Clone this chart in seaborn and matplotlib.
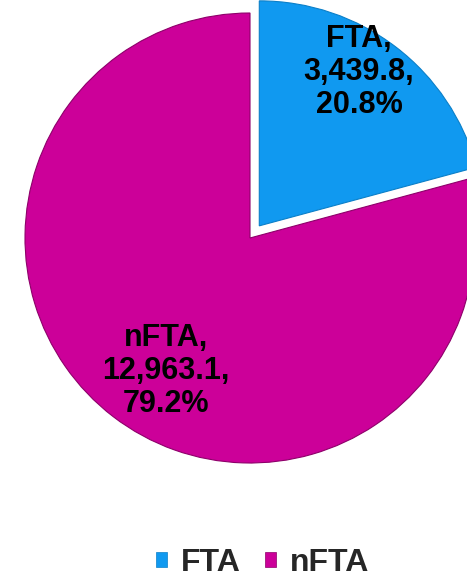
import numpy as np
import matplotlib
matplotlib.use("Agg")
import matplotlib.pyplot as plt
import seaborn as sns

categories = ["FTA", "nFTA"]
values = [3439.8, 12963.1]
percents = [20.8, 79.2]
colors = ["#1099F0", "#CC0099"]
edgecolors = ["#0B7FC8", "#8E006A"]

sns.set_theme(style="white")
plt.rcParams["font.family"] = ["Liberation Sans", "DejaVu Sans"]

fig = plt.figure(figsize=(4.67, 5.78), dpi=100)
ax = fig.add_axes([0, 0, 1, 1])
ax.set_xlim(0, 467)
ax.set_ylim(0, 578)
ax.set_aspect("equal")
ax.axis("off")

R = 225
wedges, _ = ax.pie(percents, colors=colors, startangle=90, counterclock=False,
                   explode=[0.068 * R, 0.0], radius=R, center=(250, 340),
                   wedgeprops=dict(linewidth=0.8), frame=False)
for w, ec in zip(wedges, edgecolors):
    w.set_edgecolor(ec)
ax.set_xlim(0, 467)
ax.set_ylim(0, 578)

label_dist = [0.815, 0.70]
label_rot = [4.5, 5]
for w, name, val, pct, d, rot in zip(wedges, categories, values, percents, label_dist, label_rot):
    mid = np.deg2rad((w.theta1 + w.theta2) / 2 + rot)
    cx, cy = w.center
    x = cx + R * d * np.cos(mid)
    y = cy + R * d * np.sin(mid)
    ax.text(x, y, f"{name},\n{val:,.1f},\n{pct:.1f}%", ha="center", va="center",
            fontsize=22, fontweight="bold", color="black", linespacing=1.14)

leg = ax.legend(wedges, categories, loc="center", bbox_to_anchor=(0.563, 0.026),
                bbox_transform=fig.transFigure, ncol=2, frameon=False,
                prop=dict(size=23, weight="bold"), handlelength=0.33, handleheight=0.33,
                handletextpad=0.45, columnspacing=0.75)
for h in leg.legend_handles:
    h.set_linewidth(0.5)

fig.savefig("out.png", dpi=100)
